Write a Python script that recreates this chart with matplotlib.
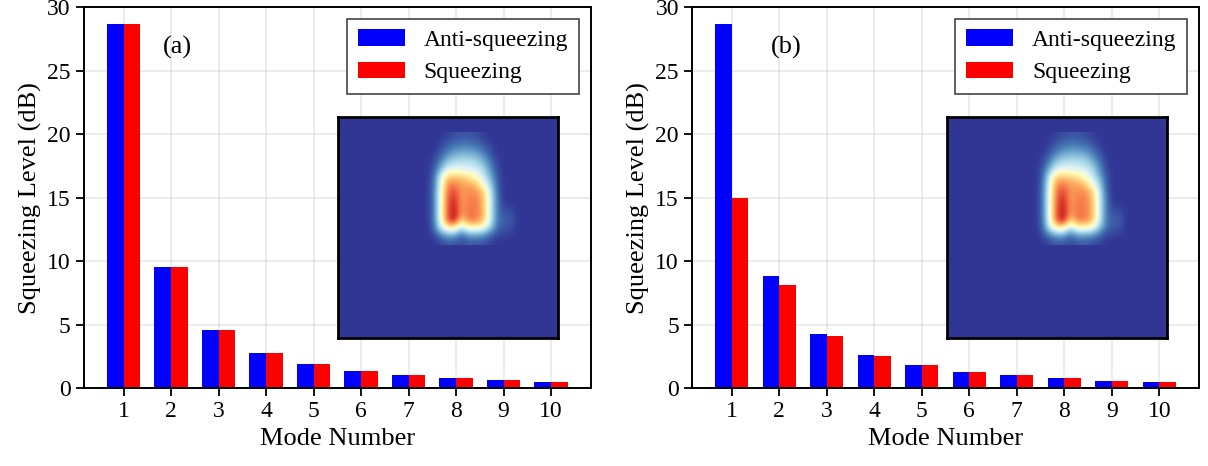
import numpy as np
import matplotlib
matplotlib.use("Agg")
import matplotlib.pyplot as plt

plt.rcParams['font.family'] = ['Liberation Serif', 'DejaVu Serif']

# data
modes = np.arange(1, 11)
anti_a = [28.65, 9.55, 4.6, 2.79, 1.92, 1.39, 1.05, 0.82, 0.61, 0.47]
sq_a = [28.65, 9.55, 4.6, 2.79, 1.92, 1.39, 1.05, 0.82, 0.61, 0.47]
anti_b = [28.65, 8.79, 4.29, 2.65, 1.81, 1.31, 1.0, 0.79, 0.6, 0.47]
sq_b = [14.95, 8.1, 4.13, 2.57, 1.79, 1.31, 1.0, 0.79, 0.6, 0.47]

# coarse read of the inset picture (values on RdYlBu_r, 0 = background)
inset_grid = [
    [0, 0, 0, 0, 0.02, 0.04, 0.05, 0.05, 0.04, 0.02, 0, 0, 0, 0, 0],
    [0, 0, 0, 0.02, 0.05, 0.08, 0.09, 0.09, 0.08, 0.05, 0.02, 0, 0, 0, 0],
    [0, 0, 0, 0.04, 0.1, 0.14, 0.16, 0.16, 0.14, 0.1, 0.04, 0, 0, 0, 0],
    [0, 0, 0.02, 0.08, 0.18, 0.24, 0.26, 0.26, 0.24, 0.17, 0.08, 0.02, 0, 0, 0],
    [0, 0, 0.03, 0.14, 0.3, 0.34, 0.35, 0.34, 0.32, 0.26, 0.13, 0.03, 0, 0, 0],
    [0, 0, 0.05, 0.25, 0.45, 0.46, 0.45, 0.44, 0.4, 0.34, 0.18, 0.05, 0, 0, 0],
    [0, 0, 0.06, 0.38, 0.68, 0.68, 0.66, 0.6, 0.52, 0.4, 0.25, 0.07, 0, 0, 0],
    [0, 0, 0.07, 0.42, 0.76, 0.78, 0.72, 0.72, 0.68, 0.5, 0.33, 0.08, 0, 0, 0],
    [0, 0, 0.08, 0.44, 0.8, 0.87, 0.72, 0.75, 0.75, 0.68, 0.4, 0.1, 0, 0, 0],
    [0, 0, 0.08, 0.45, 0.82, 0.92, 0.72, 0.77, 0.77, 0.7, 0.42, 0.12, 0, 0, 0],
    [0, 0, 0.08, 0.45, 0.83, 0.95, 0.72, 0.78, 0.78, 0.71, 0.42, 0.12, 0.02, 0.02, 0],
    [0, 0, 0.08, 0.45, 0.84, 0.97, 0.72, 0.79, 0.78, 0.72, 0.42, 0.12, 0.04, 0.05, 0],
    [0, 0, 0.08, 0.44, 0.82, 0.96, 0.6, 0.78, 0.77, 0.7, 0.4, 0.12, 0.06, 0.07, 0],
    [0, 0, 0.06, 0.35, 0.55, 0.58, 0.32, 0.52, 0.52, 0.48, 0.3, 0.1, 0.05, 0.05, 0],
    [0, 0, 0.03, 0.14, 0.22, 0.22, 0.1, 0.2, 0.2, 0.18, 0.1, 0.04, 0.02, 0.02, 0],
    [0, 0, 0, 0.03, 0.06, 0.06, 0.03, 0.06, 0.06, 0.05, 0.03, 0, 0, 0, 0],
]

w = 0.35
cmap = plt.get_cmap('RdYlBu_r')

fig = plt.figure(figsize=(12.08, 4.66), dpi=100)
ax1 = fig.add_axes([0.0695, 0.167, 0.4195, 0.818])
ax2 = fig.add_axes([0.573, 0.167, 0.4195, 0.818])

for ax, anti, sq, tag in [(ax1, anti_a, sq_a, '(a)'), (ax2, anti_b, sq_b, '(b)')]:
    ax.bar(modes - w / 2, anti, w, color='blue', label='Anti-squeezing', zorder=2)
    ax.bar(modes + w / 2, sq, w, color='red', label='Squeezing', zorder=2)
    ax.set_ylim(0, 30)
    ax.set_xticks(modes)
    ax.set_yticks([0, 5, 10, 15, 20, 25, 30])
    ax.grid(True, color='gray', alpha=0.15, linewidth=1.4, zorder=3)
    ax.tick_params(direction='out', length=6, width=1.3, labelsize=17)
    for s in ax.spines.values():
        s.set_linewidth(1.4)
    ax.set_xlabel('Mode Number', fontsize=19)
    ax.set_ylabel('Squeezing Level (dB)', fontsize=19)
    ax.text(0.155, 0.895, tag, transform=ax.transAxes, fontsize=19, va='center')
    leg = ax.legend(loc='upper right', fontsize=17, fancybox=False, framealpha=1,
                    edgecolor='#444444', handlelength=2.0, borderpad=0.45,
                    labelspacing=0.45)
    leg.get_frame().set_linewidth(1.2)
    leg.set_zorder(5)

    ins = ax.inset_axes([0.502, 0.131, 0.434, 0.58])
    ins.set_facecolor(cmap(0.0))
    ins.imshow(inset_grid, extent=(78, 183, 128, 16), cmap=cmap, vmin=0, vmax=1,
               interpolation='bicubic', aspect='auto')
    ins.set_xlim(0, 220)
    ins.set_ylim(221, 0)
    ins.set_xticks([])
    ins.set_yticks([])
    for s in ins.spines.values():
        s.set_linewidth(2)
    ins.set_zorder(4)

fig.savefig('out.png', dpi=100)
